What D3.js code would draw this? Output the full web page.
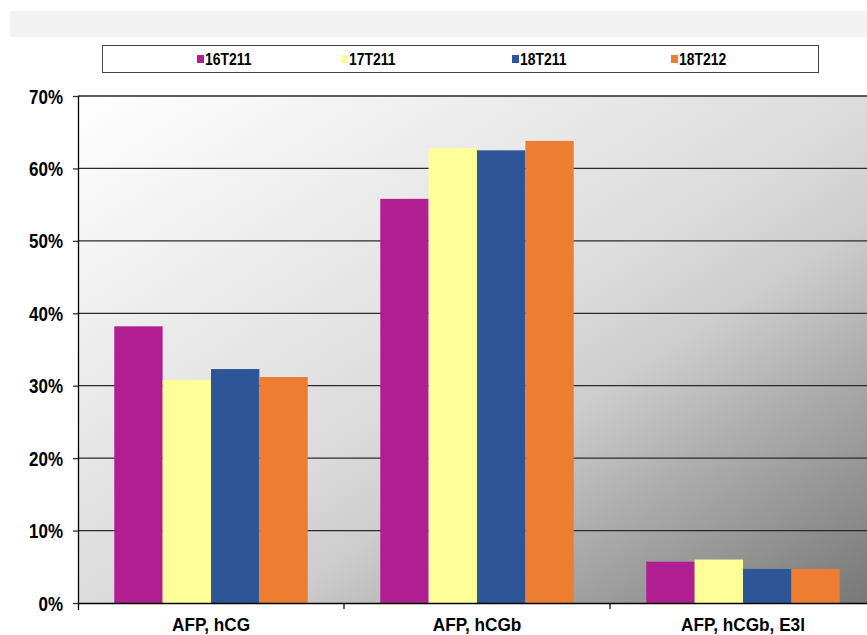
<!DOCTYPE html>
<html>
<head>
<meta charset="utf-8">
<script src="https://cdn.jsdelivr.net/npm/d3@7"></script>
<style>
  html, body { margin: 0; padding: 0; background: #ffffff; }
  svg { display: block; }
  text { font-family: "Liberation Sans", Arial, sans-serif; font-weight: bold; fill: #000; }
</style>
</head>
<body>
<svg id="chart" width="867" height="635"></svg>
<script>
const categories = ["AFP, hCG", "AFP, hCGb", "AFP, hCGb, E3l"];
const seriesNames = ["16T211", "17T211", "18T211", "18T212"];
const s16T211 = [38.2, 55.8, 5.7];
const s17T211 = [30.8, 62.8, 6.0];
const s18T211 = [32.3, 62.5, 4.7];
const s18T212 = [31.2, 63.8, 4.7];
const seriesColors = ["#b01e92", "#ffff99", "#2e5597", "#ed7d31"];
const yTickValues = [0, 10, 20, 30, 40, 50, 60, 70];

const seriesValues = [s16T211, s17T211, s18T211, s18T212];

const svg = d3.select("#chart");
const W = 867, H = 635;
const plot = { left: 78, right: 876, top: 96, bottom: 603 };

// narrow-looking text: scale horizontally around the text's own x
function narrow(sel, k) {
  sel.each(function () {
    const t = d3.select(this);
    const x0 = +t.attr("x") || 0;
    t.attr("x", x0 / k).attr("transform", `scale(${k},1)`);
  });
}

// top grey band
svg.append("rect").attr("x", 10).attr("y", 11).attr("width", W - 10).attr("height", 26).attr("fill", "#f2f2f2");

// gradient
const defs = svg.append("defs");
const grad = defs.append("linearGradient").attr("id", "bg").attr("x1", 0).attr("y1", 0).attr("x2", 1).attr("y2", 1);
[[0, "#ffffff"], [0.5, "#dcdcdc"], [0.62, "#cdcdcd"], [0.75, "#adadad"], [1, "#767676"]].forEach(([o, c]) => {
  grad.append("stop").attr("offset", o).attr("stop-color", c);
});

const x = d3.scaleBand().domain(categories).range([plot.left, plot.right]).paddingInner(0).paddingOuter(0);
const xs = d3.scaleBand().domain(seriesNames).range([0, x.bandwidth()]).paddingInner(0).paddingOuter(0.75);
const y = d3.scaleLinear().domain([0, 70]).range([plot.bottom, plot.top]);
const color = d3.scaleOrdinal().domain(seriesNames).range(seriesColors);

svg.append("rect").attr("x", plot.left).attr("y", plot.top)
  .attr("width", plot.right - plot.left).attr("height", plot.bottom - plot.top)
  .attr("fill", "url(#bg)");

// gridlines
svg.append("g").selectAll("line").data(yTickValues.filter(v => v > 0)).join("line")
  .attr("x1", plot.left).attr("x2", plot.right)
  .attr("y1", d => y(d)).attr("y2", d => y(d))
  .attr("stroke", "#2a2a2a").attr("stroke-width", 1.3);

// bars
const rows = categories.map((c, i) => ({ cat: c, vals: seriesNames.map((s, j) => ({ s, v: seriesValues[j][i] })) }));
svg.append("g").selectAll("g").data(rows).join("g")
  .attr("transform", d => `translate(${x(d.cat)},0)`)
  .selectAll("rect").data(d => d.vals).join("rect")
  .attr("x", d => xs(d.s)).attr("width", xs.bandwidth())
  .attr("y", d => y(d.v)).attr("height", d => y(0) - y(d.v))
  .attr("fill", d => color(d.s));

// y axis
const yAxis = d3.axisLeft(y).tickValues(yTickValues).tickFormat(d => d + "%").tickSize(5).tickPadding(10);
const gy = svg.append("g").attr("transform", `translate(${plot.left},0)`).call(yAxis)
  .attr("font-size", null).attr("font-family", null);
gy.select(".domain").attr("stroke", "#000").attr("stroke-width", 1.3).attr("d", `M0.5,${plot.top}V${plot.bottom + 7}`);
gy.selectAll(".tick line").attr("stroke", "#333").attr("stroke-width", 1.3);
gy.selectAll("text").style("font-size", "19.5px").attr("dy", "0.36em");
narrow(gy.selectAll("text"), 0.87);

// x axis
const xAxis = d3.axisBottom(x).tickSize(0).tickPadding(15);
const gx = svg.append("g").attr("transform", `translate(0,${plot.bottom})`).call(xAxis)
  .attr("font-size", null).attr("font-family", null);
gx.select(".domain").attr("stroke", "#000").attr("stroke-width", 1.3);
gx.selectAll("text").style("font-size", "18.5px");
narrow(gx.selectAll("text"), 0.93);
gx.selectAll("line.sep").data(categories).join("line").attr("class", "sep")
  .attr("x1", d => x(d) + x.bandwidth()).attr("x2", d => x(d) + x.bandwidth())
  .attr("y1", 0).attr("y2", 6).attr("stroke", "#000").attr("stroke-width", 1.2);

// legend
const legend = svg.append("g");
legend.append("rect").attr("x", 102.5).attr("y", 45.5).attr("width", 716).attr("height", 27)
  .attr("fill", "#fff").attr("stroke", "#444").attr("stroke-width", 1);
const legendPos = [197, 341, 512, 671];
const li = legend.selectAll("g.item").data(seriesNames).join("g").attr("class", "item")
  .attr("transform", (d, i) => `translate(${legendPos[i]},59)`);
li.append("rect").attr("x", 0).attr("y", -4).attr("width", 7).attr("height", 8).attr("fill", d => color(d));
const lt = li.append("text").attr("x", 8).attr("dy", "0.36em").style("font-size", "17px").text(d => d);
narrow(lt, 0.82);
</script>
</body>
</html>
